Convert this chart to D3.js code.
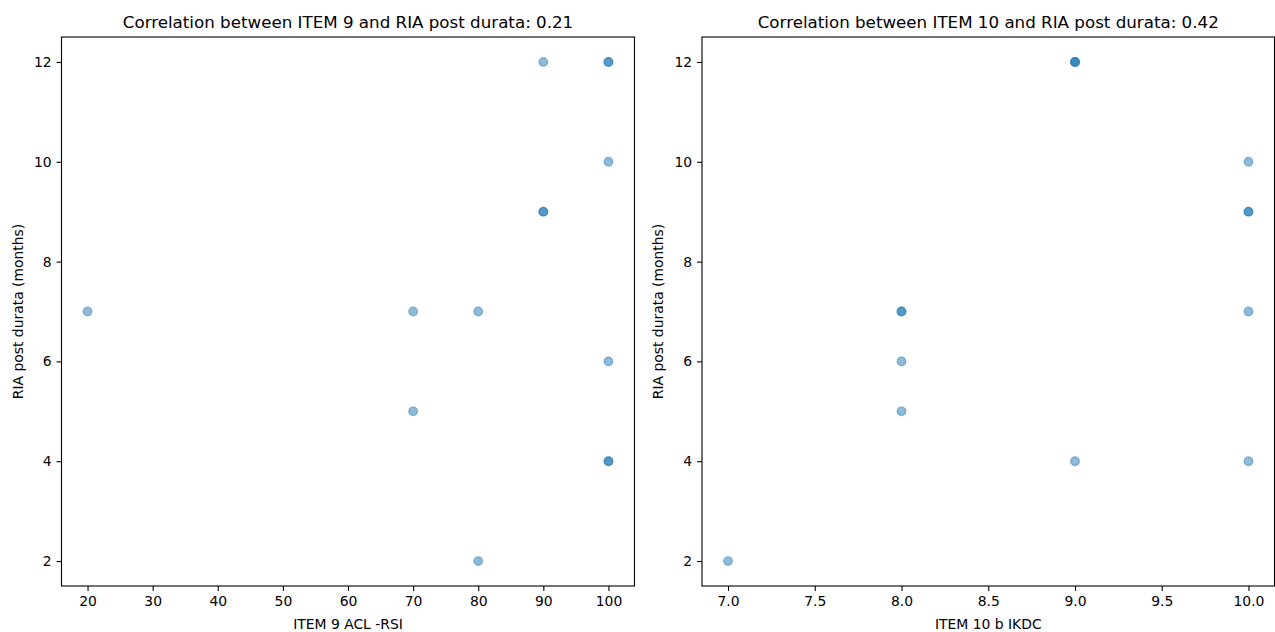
<!DOCTYPE html>
<html>
<head>
<meta charset="utf-8">
<script src="https://cdn.jsdelivr.net/npm/d3@7"></script>
<style>
  body { margin: 0; background: #fff; }
  svg { font-family: "DejaVu Sans", sans-serif; }
</style>
</head>
<body>
<div id="chart"></div>
<script>
// one entry per patient
let ria_months = [2, 4, 4, 5, 6, 7, 7, 7, 9, 9, 10, 12, 12, 12];
let item9_acl_rsi = [80, 100, 100, 70, 100, 20, 70, 80, 90, 90, 100, 90, 100, 100];
let item10_ikdc = [7, 9, 10, 8, 8, 8, 8, 10, 10, 10, 10, 9, 9, 9];

let item9_ticks = [20, 30, 40, 50, 60, 70, 80, 90, 100];
let item10_ticks = [7.0, 7.5, 8.0, 8.5, 9.0, 9.5, 10.0];
let ria_ticks = [2, 4, 6, 8, 10, 12];

let titles = [
    'Correlation between ITEM 9 and RIA post durata: 0.21',
    'Correlation between ITEM 10 and RIA post durata: 0.42'
];
let x_labels = ['ITEM 9 ACL -RSI', 'ITEM 10 b IKDC'];
let y_label = 'RIA post durata (months)';

let svgWidth = 1275;
let svgHeight = 632;
let svg = d3.select('#chart').append('svg')
    .attr('width', svgWidth)
    .attr('height', svgHeight);

let top_y = 37, bottom_y = 586;

function draw_panel(left, right, xs, xdom, xticks, xfmt, title, xlabel) {
    let x = d3.scaleLinear().domain(xdom).range([left, right]);
    let y = d3.scaleLinear().domain([1.5, 12.5]).range([bottom_y, top_y]);

    let g = svg.append('g');

    // points
    g.append('g')
        .selectAll('circle')
        .data(ria_months.map((d, i) => [xs[i], d]))
        .enter()
        .append('circle')
        .attr('cx', d => x(d[0]))
        .attr('cy', d => y(d[1]))
        .attr('r', 4.3)
        .attr('fill', '#1f77b4')
        .attr('fill-opacity', 0.5)
        .attr('stroke', '#1f77b4')
        .attr('stroke-opacity', 0.5)
        .attr('stroke-width', 1.2);

    // x axis
    g.append('g')
        .attr('transform', `translate(0, ${bottom_y})`)
        .call(d3.axisBottom(x).tickValues(xticks).tickFormat(xfmt).tickSize(4.9).tickPadding(4.9))
        .call(a => a.select('.domain').remove())
        .call(a => a.selectAll('line').attr('stroke', '#000').attr('stroke-width', 1.1))
        .call(a => a.selectAll('text').attr('font-size', '13.9px').attr('fill', '#000')
            .attr('font-family', '"DejaVu Sans", sans-serif'));

    // y axis
    g.append('g')
        .attr('transform', `translate(${left}, 0)`)
        .call(d3.axisLeft(y).tickValues(ria_ticks).tickSize(4.9).tickPadding(4.9))
        .call(a => a.select('.domain').remove())
        .call(a => a.selectAll('line').attr('stroke', '#000').attr('stroke-width', 1.1))
        .call(a => a.selectAll('text').attr('font-size', '13.9px').attr('fill', '#000')
            .attr('font-family', '"DejaVu Sans", sans-serif'));

    // frame
    g.append('rect')
        .attr('x', left)
        .attr('y', top_y)
        .attr('width', right - left)
        .attr('height', bottom_y - top_y)
        .attr('fill', 'none')
        .attr('stroke', '#000')
        .attr('stroke-width', 1.1);

    g.append('text')
        .attr('x', (left + right) / 2)
        .attr('y', top_y - 9.5)
        .attr('text-anchor', 'middle')
        .attr('font-size', '16.7px')
        .text(title);

    g.append('text')
        .attr('x', (left + right) / 2)
        .attr('y', 629)
        .attr('text-anchor', 'middle')
        .attr('font-size', '13.9px')
        .text(xlabel);

    g.append('text')
        .attr('transform', `translate(${left - 39}, ${(top_y + bottom_y) / 2}) rotate(-90)`)
        .attr('text-anchor', 'middle')
        .attr('font-size', '13.9px')
        .text(y_label);
}

draw_panel(61.5, 634.5, item9_acl_rsi, [16, 104], item9_ticks, d => d, titles[0], x_labels[0]);
draw_panel(702, 1274.5, item10_ikdc, [6.85, 10.15], item10_ticks, d3.format('.1f'), titles[1], x_labels[1]);
</script>
</body>
</html>
